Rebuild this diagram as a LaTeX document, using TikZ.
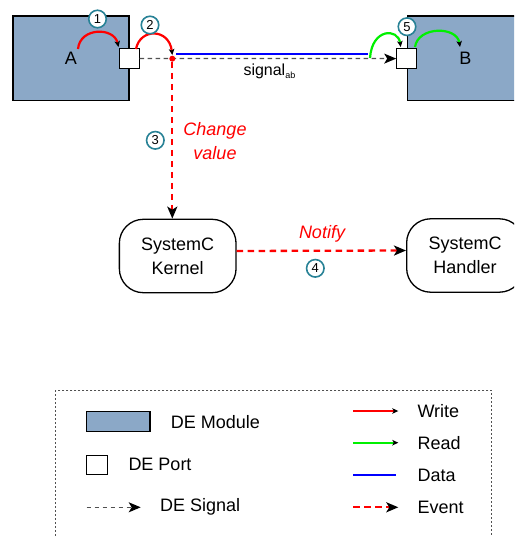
\documentclass[tikz,border=0pt]{standalone}
\usepackage{fontspec}
\setmainfont{Liberation Sans}
\usetikzlibrary{arrows.meta}
\definecolor{modfill}{RGB}{139,168,199}
\definecolor{tealc}{RGB}{40,130,150}
\definecolor{sigray}{RGB}{80,80,80}
\definecolor{rgreen}{RGB}{0,240,0}
\begin{document}
\begin{tikzpicture}[x=1pt,y=-1pt,
  font=\fontsize{18}{22}\selectfont,
  module/.style={draw=black, fill=modfill, line width=1.3pt, minimum width=116pt, minimum height=84.5pt, inner sep=0pt},
  port/.style={draw=black, fill=white, line width=1pt, minimum width=20pt, minimum height=20.5pt, inner sep=0pt},
  num/.style={circle, draw=tealc, line width=1.6pt, fill=white, minimum size=17.5pt, inner sep=0pt, font=\fontsize{13}{13}\selectfont},
  sctask/.style={draw=black, rounded corners=24pt, line width=1.3pt, minimum width=116.7pt, minimum height=73.4pt, align=center, inner sep=0pt, font=\fontsize{18}{24}\selectfont},
  smalltip/.style={-{Stealth[color=black,length=6pt,width=5.5pt,inset=1.5pt]}},
  bigtip/.style={-{Stealth[color=black,length=12pt,width=10pt,inset=3pt]}},
  writeln/.style={red, line width=2.2pt, smalltip},
  readln/.style={rgreen, line width=2.2pt, smalltip},
  dataln/.style={blue, line width=2pt},
  sigln/.style={sigray, dash pattern=on 4.5pt off 3.5pt, line width=1.3pt, bigtip},
  evln/.style={red, dash pattern=on 6.5pt off 4.5pt, line width=2.3pt, bigtip},
  lbl/.style={inner sep=0pt, anchor=west},
  evlbl/.style={red, inner sep=0pt, font=\fontsize{18}{23.7}\selectfont\itshape, align=center}
]
\clip (0,0) rectangle (514,537);
\fill[white] (0,0) rectangle (514,537);

% modules and ports
\node[module] (modA) at (71,58.3) {A};
\node[module] (modB) at (465.3,58.3) {B};
\node[port] (portA) at (129,58.5) {};
\node[port] (portB) at (406.7,58.6) {};

% signal
\draw[sigln] (portA.east) -- (portB.west);
\node[inner sep=0pt, anchor=base west, font=\fontsize{16}{16}\selectfont] (siglbl) at (243.3,76)
  {signal\raisebox{-3pt}{\fontsize{9}{9}\selectfont ab}};

% data
\coordinate (dataS) at (176,54.5);
\coordinate (dataE) at (368,54.5);
\draw[dataln] (dataS) -- (dataE);

% red dot
\node[circle, fill=red, inner sep=0pt, minimum size=6pt] (dot) at (172.3,58.7) {};

% write arcs
\coordinate (w1s) at (78,49);
\coordinate (w1e) at (118.5,47);
\draw[writeln] (w1s) .. controls (80,27) and (114,27) .. (w1e);
\coordinate (w2s) at (136,49);
\coordinate (w2e) at (172.3,55);
\draw[writeln] (w2s) .. controls (140,28) and (169,28) .. (w2e);

% read arcs
\coordinate (r1s) at (370,58);
\coordinate (r1e) at (400.7,47);
\draw[readln] (r1s) .. controls (372,28) and (398,28) .. (r1e);
\coordinate (r2s) at (415,47);
\coordinate (r2e) at (460,47);
\draw[readln] (r2s) .. controls (418,26) and (457,26) .. (r2e);

% kernel / handler
\node[sctask] (kernel) at (177.7,256) {SystemC\\Kernel};
\node[sctask] (handler) at (465,255.5) {SystemC\\Handler};

\draw[evln] (dot) -- (dot |- kernel.north);
\draw[evln] ([yshift=5pt]kernel.east) -- ([yshift=5pt]handler.west);

\node[evlbl] (chg) at (215,141) {Change\\value};
\node[evlbl] (ntf) at (322,234) {Notify};

% numbers
\node[num] (n1) at (97.5,19) {1};
\node[num] (n2) at (150,25) {2};
\node[num] (n3) at (155.3,140.3) {3};
\node[num] (n4) at (315.3,268.3) {4};
\node[num] (n5) at (407,26.7) {5};

% legend
\draw[sigray, dash pattern=on 2pt off 2pt, line width=1pt] (55,390) rectangle (491.7,560);
\node[module, minimum width=63.3pt, minimum height=20pt] (lgmod) at (118.3,421.7) {};
\node[lbl] (lgmodt) at (170.7,421.7) {DE Module};
\node[port, minimum width=21pt, minimum height=19.3pt] (lgport) at (97.2,464.7) {};
\node[lbl] (lgportt) at (128.3,464.5) {DE Port};
\coordinate (lgsigs) at (86.7,507.3);
\coordinate (lgsige) at (140.7,507.3);
\draw[sigln] (lgsigs) -- (lgsige);
\node[lbl] (lgsigt) at (160,507) {DE Signal};

\coordinate (lgws) at (353.3,411);
\coordinate (lgwe) at (398.3,411);
\draw[writeln, line width=1.8pt] (lgws) -- (lgwe);
\node[lbl] (lgwt) at (417.3,411) {Write};
\coordinate (lgrs) at (353.3,442.7);
\coordinate (lgre) at (398.3,442.7);
\draw[readln, line width=1.8pt] (lgrs) -- (lgre);
\node[lbl] (lgrt) at (417.3,442.7) {Read};
\coordinate (lgds) at (353.3,475);
\coordinate (lgde) at (396,475);
\draw[dataln, line width=1.8pt] (lgds) -- (lgde);
\node[lbl] (lgdt) at (417.3,475) {Data};
\coordinate (lges) at (353.3,507.3);
\coordinate (lgee) at (398.3,507.3);
\draw[evln] (lges) -- (lgee);
\node[lbl] (lget) at (417.3,507.3) {Event};
\end{tikzpicture}
\end{document}
